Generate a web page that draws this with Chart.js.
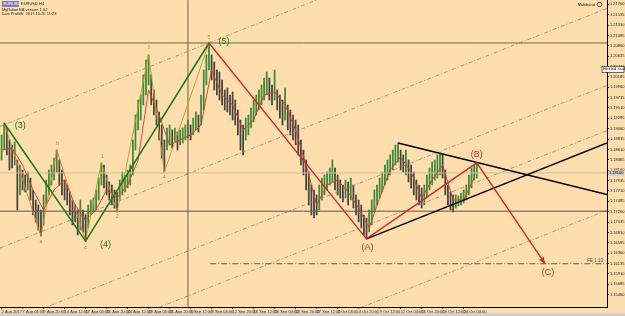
<!DOCTYPE html>
<html>
<head>
<meta charset="utf-8">
<script src="https://cdn.jsdelivr.net/npm/chart.js@4.4.1/dist/chart.umd.min.js"></script>
<style>
html, body { margin: 0; padding: 0; background: #FFDEAD; overflow: hidden; }
#tabs { width: 625px; height: 3px; background: #D4D0C8; }
</style>
</head>
<body>
<canvas id="chart" width="625" height="313"></canvas>
<div id="tabs"></div>
<script>
// time axis: one bar = 8 hours, a date label every 8 bars
const dateLabels = ['2 Aug 2017', '7 Aug 04:00', '9 Aug 20:00', '14 Aug 12:00', '17 Aug 04:00', '21 Aug 20:00',
  '24 Aug 12:00', '29 Aug 04:00', '31 Aug 20:00', '5 Sep 12:00', '8 Sep 04:00', '12 Sep 20:00', '15 Sep 12:00',
  '20 Sep 04:00', '22 Sep 20:00', '27 Sep 12:00', '2 Oct 04:00', '4 Oct 20:00', '9 Oct 12:00', '12 Oct 04:00',
  '16 Oct 20:00', '19 Oct 12:00', '24 Oct 04:00'];
const dateTickIdx = [0, 8, 16, 24, 32, 40, 48, 56, 64, 72, 80, 88, 96, 104, 112, 120, 128, 136, 144, 152, 160, 168, 176];

const priceTicks = [1.21760, 1.21535, 1.21310, 1.21085, 1.20860, 1.20635, 1.20410, 1.20185, 1.19960, 1.19735,
  1.19510, 1.19285, 1.19060, 1.18835, 1.18610, 1.18385, 1.18160, 1.17935, 1.17710, 1.17485, 1.17260, 1.17035,
  1.16810, 1.16585, 1.16360, 1.16135, 1.15910, 1.15685, 1.15460];

// EURUSD bars (high / low)
const barHigh = [
  1.18924, 1.19184, 1.19075, 1.18815, 1.18707, 1.18772, 1.18381, 1.18273, 1.18164, 1.18056,
  1.18121, 1.17990, 1.17730, 1.17513, 1.17405, 1.17296, 1.17622, 1.17947, 1.18164, 1.18273,
  1.18424, 1.18598, 1.18381, 1.18164, 1.17947, 1.17839, 1.17687, 1.17513, 1.17405, 1.17296,
  1.17513, 1.17296, 1.17188, 1.17405, 1.17513, 1.17556, 1.17730, 1.17990, 1.18316, 1.18273,
  1.18056, 1.17904, 1.17839, 1.17730, 1.17687, 1.17947, 1.18121, 1.18056, 1.18164, 1.18273,
  1.18815, 1.19358, 1.19683, 1.19792, 1.20226, 1.20551, 1.20660, 1.20226, 1.19900, 1.19683,
  1.19423, 1.19141, 1.18815, 1.19075, 1.19141, 1.19032, 1.19075, 1.18989, 1.19032, 1.19075,
  1.19141, 1.19249, 1.19141, 1.19292, 1.19423, 1.19358, 1.19792, 1.20334, 1.20660, 1.20920,
  1.20660, 1.20508, 1.20334, 1.20291, 1.20117, 1.19900, 1.19943, 1.19792, 1.19857, 1.19683,
  1.19466, 1.19249, 1.19141, 1.19292, 1.19358, 1.19509, 1.19683, 1.19792, 1.19900, 1.20009,
  1.20160, 1.20291, 1.20160, 1.20009, 1.20334, 1.19900, 1.19792, 1.19683, 1.19943, 1.19575,
  1.19466, 1.19358, 1.19249, 1.19141, 1.18815, 1.18598, 1.18381, 1.18121, 1.17839, 1.17730,
  1.17622, 1.17839, 1.17990, 1.18056, 1.18121, 1.18207, 1.18381, 1.18207, 1.18056, 1.17947,
  1.17839, 1.17947, 1.17904, 1.17990, 1.17839, 1.17622, 1.17513, 1.17405, 1.17188, 1.17122,
  1.17296, 1.17513, 1.17730, 1.17839, 1.17990, 1.18121, 1.18273, 1.18381, 1.18490, 1.18598,
  1.18707, 1.18750, 1.18598, 1.18490, 1.18598, 1.18381, 1.18273, 1.18121, 1.17947, 1.17839,
  1.17773, 1.17839, 1.18056, 1.18207, 1.18338, 1.18381, 1.18490, 1.18533, 1.18490, 1.18164,
  1.17839, 1.17687, 1.17622, 1.17622, 1.17600, 1.17665, 1.17730, 1.17839, 1.18056, 1.18207,
  1.18273, 1.18316];
const barLow = [
  1.18381, 1.18598, 1.18490, 1.18164, 1.18207, 1.18273, 1.17296, 1.17622, 1.17730, 1.17687,
  1.17730, 1.17513, 1.17188, 1.17036, 1.16862, 1.16732, 1.16971, 1.17405, 1.17622, 1.17839,
  1.17947, 1.18121, 1.17839, 1.17622, 1.17513, 1.17405, 1.17188, 1.16971, 1.17036, 1.16754,
  1.16862, 1.16819, 1.16623, 1.16905, 1.17188, 1.17253, 1.17296, 1.17513, 1.17839, 1.17773,
  1.17622, 1.17513, 1.17405, 1.17339, 1.17253, 1.17513, 1.17622, 1.17687, 1.17773, 1.17839,
  1.18056, 1.18598, 1.19032, 1.19249, 1.19575, 1.19792, 1.20009, 1.19575, 1.19358, 1.19141,
  1.18815, 1.18424, 1.18121, 1.18598, 1.18707, 1.18641, 1.18772, 1.18598, 1.18707, 1.18750,
  1.18815, 1.18858, 1.18815, 1.18924, 1.19032, 1.18989, 1.19141, 1.19466, 1.20009, 1.20334,
  1.20117, 1.19900, 1.19792, 1.19683, 1.19575, 1.19466, 1.19423, 1.19358, 1.19249, 1.19141,
  1.18924, 1.18598, 1.18490, 1.18815, 1.18924, 1.19075, 1.19206, 1.19358, 1.19466, 1.19575,
  1.19683, 1.19792, 1.19683, 1.19575, 1.19683, 1.19466, 1.19292, 1.19141, 1.19249, 1.19032,
  1.18924, 1.18815, 1.18707, 1.18490, 1.18273, 1.18056, 1.17730, 1.17405, 1.17188, 1.17122,
  1.17188, 1.17296, 1.17513, 1.17622, 1.17730, 1.17839, 1.17904, 1.17730, 1.17622, 1.17556,
  1.17470, 1.17556, 1.17405, 1.17513, 1.17339, 1.17188, 1.17036, 1.16905, 1.16754, 1.16667,
  1.16819, 1.16971, 1.17253, 1.17405, 1.17556, 1.17687, 1.17839, 1.17947, 1.18056, 1.18164,
  1.18273, 1.18338, 1.18164, 1.18121, 1.18056, 1.17904, 1.17773, 1.17622, 1.17513, 1.17405,
  1.17339, 1.17405, 1.17556, 1.17730, 1.17839, 1.17947, 1.17990, 1.18056, 1.17990, 1.17622,
  1.17405, 1.17296, 1.17253, 1.17339, 1.17383, 1.17405, 1.17448, 1.17513, 1.17622, 1.17773,
  1.17947, 1.17990];

// red moving average, one value every 4 bars
const maRed = [1.18598, 1.18641, 1.18273, 1.17730, 1.17296, 1.17730, 1.17947, 1.17405, 1.17079, 1.17296,
  1.17730, 1.17556, 1.17839, 1.18381, 1.19900, 1.19358, 1.18707, 1.18815, 1.18924, 1.19141,
  1.20334, 1.19792, 1.19575, 1.19032, 1.19249, 1.19792, 1.19857, 1.19575, 1.19032, 1.18273,
  1.17405, 1.17839, 1.17947, 1.17687, 1.17339, 1.16905, 1.17556, 1.18164, 1.18446, 1.18121,
  1.17556, 1.17947, 1.18273, 1.17513, 1.17513, 1.17990];

// Elliott wave pivots (bar index, price)
const impulseIdx = [1, 32, 79];
const impulsePrice = [1.1918, 1.1662, 1.2092];
const impulseNames = ['(3)', '(4)', '(5)'];
const subImpIdx = [32, 38, 44, 56, 62, 79];
const subImpPrice = [1.1662, 1.1832, 1.1725, 1.2066, 1.1812, 1.2092];
const subImpNames = ['', '1', '2', '3', '4', '5'];
const subCorrIdx = [1, 15, 21, 32];
const subCorrPrice = [1.1918, 1.1673, 1.1860, 1.1662];
const subCorrNames = ['', 'a', 'b', 'c'];
const corrIdx = [79, 139, 181, 207];
const corrPrice = [1.2092, 1.1667, 1.1832, 1.1613];
const corrNames = ['', '(A)', '(B)', '(C)'];

// triangle and channel lines, [bar index, price] end points
const triUpper = [[151, 1.1875], [230.6, 1.1763]];
const triLower = [[139, 1.1667], [230.6, 1.1875]];
const channels = [
  [[-0.6, 1.1911], [230.6, 1.2437]],
  [[-0.6, 1.1647], [230.6, 1.2167]],
  [[-0.6, 1.1479], [230.6, 1.2000]],
  [[-0.6, 1.1382], [230.6, 1.1902]],
  [[-0.6, 1.1208], [230.6, 1.1729]]
];
const level5 = 1.2092;
const levelLow = 1.1727;
const levelFE = 1.1613;
const levelFEStart = 79.5;
const bidPrice = 1.1810;
const markerBar = 71;

const X_MIN = -0.6, X_MAX = 230.6;
const seg = pts => pts.map(p => ({ x: p[0], y: p[1] }));
const zipPts = (ix, pr) => ix.map((v, k) => ({ x: v, y: pr[k] }));

const barColors = barHigh.map((h, i) => {
  if (i === 0) return '#3a8a3a';
  return (h + barLow[i]) >= (barHigh[i - 1] + barLow[i - 1]) ? '#3a8a3a' : '#444444';
});

const lineDs = (data, color, width, dash, order) => ({
  type: 'line', data, borderColor: color, borderWidth: width, borderDash: dash || [],
  pointRadius: 0, tension: 0, fill: false, order
});

const datasets = [
  lineDs(zipPts(impulseIdx, impulsePrice), '#1d7a1d', 1.6, null, 2),
  lineDs(zipPts(corrIdx, corrPrice), '#cc2b2b', 1.4, null, 1),
  lineDs(zipPts(subImpIdx, subImpPrice), '#a8a030', 0.9, null, 3),
  lineDs(zipPts(subCorrIdx, subCorrPrice), '#e07828', 0.9, null, 3),
  lineDs(seg(triUpper), '#000000', 1.5, null, 1),
  lineDs(seg(triLower), '#000000', 1.5, null, 1),
  lineDs(maRed.map((v, k) => ({ x: k * 4, y: v })), '#d03a2a', 0.9, null, 6),
  lineDs(seg([[X_MIN, level5], [X_MAX, level5]]), '#6e6444', 1, null, 8),
  lineDs(seg([[X_MIN, levelLow], [X_MAX, levelLow]]), '#5a5448', 1, null, 8),
  lineDs(seg([[X_MIN, bidPrice], [X_MAX, bidPrice]]), '#cdbf9f', 1, null, 9),
  lineDs(seg([[levelFEStart, levelFE], [X_MAX, levelFE]]), '#3c3c3c', 0.8, [6, 2, 1, 2], 8),
  lineDs(seg([[markerBar, 1.1519], [markerBar, 1.2185]]), '#6e6444', 1, null, 8)
];
channels.forEach(c => datasets.push(lineDs(seg(c), '#8c8878', 0.8, [4, 2, 1, 2], 9)));
datasets.push({
  type: 'bar', data: barLow.map((lo, i) => ({ x: i, y: [lo, barHigh[i]] })),
  backgroundColor: barColors, barThickness: 1.1, grouped: false, order: 10
});

const overlay = {
  id: 'overlay',
  afterDatasetsDraw(chart) {
    const { ctx, scales: { x, y } } = chart;
    const px = i => x.getPixelForValue(i);
    const py = p => y.getPixelForValue(p);
    ctx.save();
    ctx.textAlign = 'center';
    ctx.textBaseline = 'middle';

    // arrow head at (C)
    const bx = px(corrIdx[2]), by = py(corrPrice[2]);
    const cx = px(corrIdx[3]), cy = py(corrPrice[3]);
    const ang = Math.atan2(cy - by, cx - bx);
    ctx.fillStyle = '#cc2b2b';
    ctx.beginPath();
    ctx.moveTo(cx, cy);
    ctx.lineTo(cx - 7 * Math.cos(ang - 0.4), cy - 7 * Math.sin(ang - 0.4));
    ctx.lineTo(cx - 7 * Math.cos(ang + 0.4), cy - 7 * Math.sin(ang + 0.4));
    ctx.closePath();
    ctx.fill();

    const put = (txt, i, p, dx, dy, color, size) => {
      if (!txt) return;
      ctx.fillStyle = color;
      ctx.font = size + 'px "Liberation Sans", Arial, sans-serif';
      ctx.fillText(txt, px(i) + dx, py(p) + dy);
    };
    const impOff = [[16, 2], [20, 3], [15, -1]];
    impulseNames.forEach((t, k) => put(t, impulseIdx[k], impulsePrice[k], impOff[k][0], impOff[k][1], '#1d7a1d', 9));
    const corrOff = [[0, 0], [1, 9], [0, -8], [3, 9]];
    corrNames.forEach((t, k) => put(t, corrIdx[k], corrPrice[k], corrOff[k][0], corrOff[k][1], '#cc2b2b', 9));
    const subOff = [[0, 0], [1, -6], [0, 5], [0, -7], [0, 6], [0, -5]];
    subImpNames.forEach((t, k) => put(t, subImpIdx[k], subImpPrice[k], subOff[k][0], subOff[k][1], '#9c9428', 5));
    const corrSubOff = [[0, 0], [0, 6], [1, -6], [0, 6]];
    subCorrNames.forEach((t, k) => put(t, subCorrIdx[k], subCorrPrice[k], corrSubOff[k][0], corrSubOff[k][1], '#e06a20', 5));

    // level caption
    ctx.textAlign = 'right';
    ctx.fillStyle = '#3c3c3c';
    ctx.font = '4.5px "Liberation Sans", Arial, sans-serif';
    ctx.fillText('FE 1.13', px(X_MAX) - 4, py(levelFE) - 3);
    ctx.restore();
  },
  afterDraw(chart) {
    const { ctx, scales: { y } } = chart;
    ctx.save();
    ctx.font = '4px "Liberation Sans", Arial, sans-serif';
    ctx.textBaseline = 'middle';
    ctx.textAlign = 'left';
    // header
    ctx.fillStyle = '#7b7fc0';
    ctx.fillRect(2, 1, 17, 6);
    ctx.fillStyle = '#ffffff';
    ctx.fillText('EURUSD', 3.5, 4.2);
    ctx.fillStyle = '#222';
    ctx.fillText('EURUSD,H4', 21, 4.2);
    ctx.fillText('MyRobot EA version 1.02', 2, 9.5);
    ctx.fillText('Last Profit/h: 2017.10.25 11:23', 2, 14);
    ctx.textAlign = 'right';
    ctx.fillText('Multiband', 595, 4.5);
    ctx.beginPath();
    ctx.arc(599.5, 4.5, 2.2, 0, Math.PI * 2);
    ctx.strokeStyle = '#222';
    ctx.lineWidth = 0.7;
    ctx.stroke();
    // bid box on the price axis
    ctx.textAlign = 'left';
    const yb = y.getPixelForValue(bidPrice);
    ctx.fillStyle = '#c8c8c8';
    ctx.fillRect(608, yb - 2.5, 16, 5);
    ctx.fillStyle = '#111';
    ctx.fillText(bidPrice.toFixed(5), 609, yb);
    // alert label box
    const ya = y.getPixelForValue(1.2035);
    ctx.fillStyle = '#ffffff';
    ctx.fillRect(602, ya - 3, 22, 6);
    ctx.strokeStyle = '#000';
    ctx.lineWidth = 0.6;
    ctx.strokeRect(602, ya - 3, 22, 6);
    ctx.fillStyle = '#111';
    ctx.fillText('Hist bid scale', 603, ya);
    ctx.restore();
  }
};

new Chart(document.getElementById('chart').getContext('2d'), {
  type: 'bar',
  data: { datasets },
  options: {
    responsive: false,
    animation: false,
    devicePixelRatio: 1,
    layout: { padding: 0, autoPadding: false },
    plugins: { legend: { display: false }, tooltip: { enabled: false } },
    scales: {
      x: {
        type: 'linear', min: X_MIN, max: X_MAX, offset: false,
        afterBuildTicks: s => { s.ticks = dateTickIdx.map(v => ({ value: v })); },
        afterFit: s => { s.height = 6; s.paddingLeft = 0; s.paddingRight = 0; },
        ticks: {
          autoSkip: false, maxRotation: 0, align: 'start', padding: 0, color: '#222',
          font: { size: 4, family: 'Liberation Sans' },
          callback: (v, k) => dateLabels[k]
        },
        grid: { drawOnChartArea: false, tickLength: 2, color: '#000', offset: false },
        border: { color: '#000' }
      },
      y: {
        position: 'right', min: 1.15191, max: 1.21853,
        afterBuildTicks: s => { s.ticks = priceTicks.map(v => ({ value: v })); },
        afterFit: s => { s.width = 18; s.paddingTop = 0; s.paddingBottom = 0; },
        ticks: {
          padding: 1, color: '#222', font: { size: 4, family: 'Liberation Sans' },
          callback: v => v.toFixed(5)
        },
        grid: { drawOnChartArea: false, tickLength: 2, color: '#000' },
        border: { color: '#000' }
      }
    }
  },
  plugins: [overlay]
});
</script>
</body>
</html>
